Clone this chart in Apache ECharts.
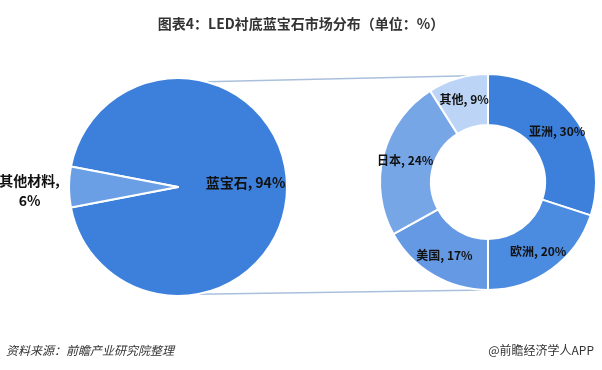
<!DOCTYPE html>
<html><head><meta charset="utf-8">
<script src="https://cdn.jsdelivr.net/npm/echarts@6/dist/echarts.min.js"></script>
<style>html,body{margin:0;padding:0;background:#fff}#c{width:602px;height:370px}</style>
</head><body><div id="c"></div>
<script>
const pieNames = ['蓝宝石', '其他材料'];
const pieValues = [94, 6];
const donutNames = ['亚洲', '欧洲', '美国', '日本', '其他'];
const donutValues = [30, 20, 17, 24, 9];

const FONT = '"Noto Sans CJK SC", "Microsoft YaHei", sans-serif';
const pieColors = ['#3c80dc', '#6a9fe6'];
const donutColors = ['#3c80dc', '#4c8ce0', '#6699e3', '#77a6e7', '#bcd5f6'];

const L = {cx: 178, cy: 187, r: 109};
const R = {cx: 488, cy: 182, r0: 57, r: 108};

function pt(c, r, degFromTop) {
  const a = degFromTop * Math.PI / 180;
  return [c.cx + r * Math.sin(a), c.cy - r * Math.cos(a)];
}
const tA = pt(L, L.r, 15), tB = pt(R, R.r, -10);
const bA = pt(L, L.r, 170), bB = pt(R, R.r, 180);

const chart = echarts.init(document.getElementById('c'));
const smallShare = pieValues[1] / (pieValues[0] + pieValues[1]) * 360;
chart.setOption({
  animation: false,
  title: {
    text: '图表4：LED衬底蓝宝石市场分布（单位：%）',
    left: 'center', top: 12,
    textStyle: {fontFamily: FONT, fontSize: 14, fontWeight: 'bold', color: '#333'}
  },
  graphic: [
    {type: 'line', z: 0, shape: {x1: tA[0], y1: tA[1], x2: tB[0], y2: tB[1]}, style: {stroke: '#a9c0dc', lineWidth: 1.5}},
    {type: 'line', z: 0, shape: {x1: bA[0], y1: bA[1], x2: bB[0], y2: bB[1]}, style: {stroke: '#a9c0dc', lineWidth: 1.5}},
    {type: 'text', left: 6, top: 344, style: {text: '资料来源：前瞻产业研究院整理', font: 'italic 12px ' + FONT, fill: '#333'}},
    {type: 'text', right: 8, top: 344, style: {text: '@前瞻经济学人APP', font: '12px ' + FONT, fill: '#333'}}
  ],
  series: [
    {
      type: 'pie', center: [L.cx, L.cy], radius: L.r,
      startAngle: 180 - smallShare / 2, clockwise: true,
      itemStyle: {borderColor: '#fff', borderWidth: 2},
      labelLine: {show: false},
      label: {
        position: 'inside', offset: [10, -4],
        formatter: p => p.name + ', ' + p.value + '%',
        fontFamily: FONT, fontSize: 14, fontWeight: 'bold', color: '#111'
      },
      data: pieNames.map((n, i) => ({
        name: n, value: pieValues[i], itemStyle: {color: pieColors[i]},
        label: i === 1 ? {offset: [-91, 4], formatter: p => p.name + ',\n' + p.value + '%', align: 'center', lineHeight: 20} : undefined
      }))
    },
    {
      type: 'pie', center: [R.cx, R.cy], radius: [R.r0, R.r],
      startAngle: 90, clockwise: true,
      itemStyle: {borderColor: '#fff', borderWidth: 2},
      labelLine: {show: false},
      label: {
        position: 'inside',
        formatter: p => p.name + ', ' + p.value + '%',
        fontFamily: FONT, fontSize: 12, fontWeight: 'bold', color: '#111'
      },
      data: donutNames.map((n, i) => ({name: n, value: donutValues[i], itemStyle: {color: donutColors[i]}}))
    }
  ]
});
</script></body></html>
